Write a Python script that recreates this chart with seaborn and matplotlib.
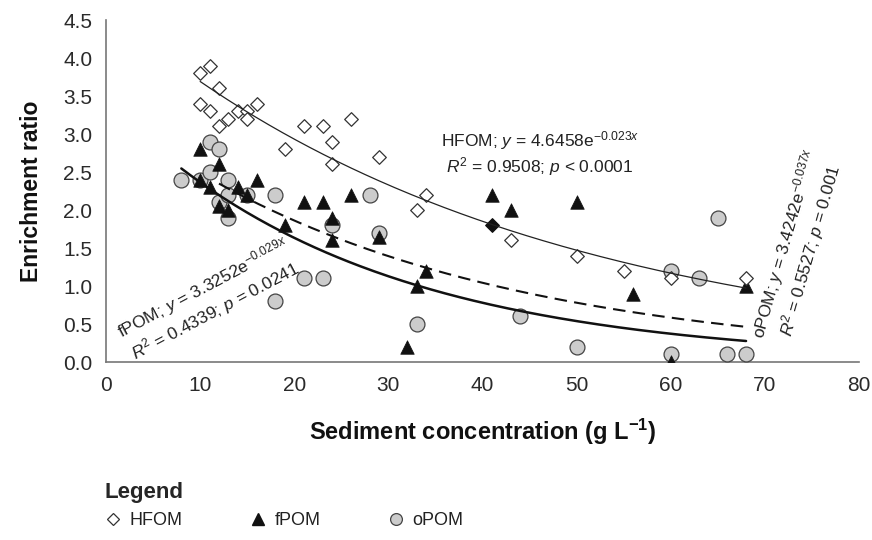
import numpy as np
import pandas as pd
import matplotlib
matplotlib.use("Agg")
import matplotlib.pyplot as plt
import seaborn as sns
from matplotlib.lines import Line2D

# HFOM - open diamonds
hfom_x = [10, 11, 12, 10, 11, 12, 13, 14, 15, 15, 16, 19, 21, 23, 24, 26, 24, 29, 33, 34, 43, 50, 55, 60, 68]
hfom_y = [3.8, 3.9, 3.6, 3.4, 3.3, 3.1, 3.2, 3.3, 3.3, 3.2, 3.4, 2.8, 3.1, 3.1, 2.9, 3.2, 2.6, 2.7, 2.0, 2.2, 1.6, 1.4, 1.2, 1.1, 1.1]
# the one filled diamond in the original
hfom_fill_x = [41]
hfom_fill_y = [1.8]

# fPOM - black triangles
fpom_x = [10, 10, 11, 12, 12, 13, 14, 15, 16, 19, 21, 23, 24, 24, 26, 29, 32, 33, 34, 41, 43, 50, 56, 60, 68]
fpom_y = [2.8, 2.4, 2.3, 2.6, 2.05, 2.0, 2.3, 2.2, 2.4, 1.8, 2.1, 2.1, 1.9, 1.6, 2.2, 1.65, 0.2, 1.0, 1.2, 2.2, 2.0, 2.1, 0.9, 0.0, 1.0]

# oPOM - grey circles
opom_x = [8, 10, 11, 11, 12, 12, 13, 13, 13, 15, 18, 18, 21, 23, 24, 28, 29, 33, 44, 50, 60, 60, 63, 65, 66, 68]
opom_y = [2.4, 2.4, 2.9, 2.5, 2.8, 2.1, 2.4, 2.2, 1.9, 2.2, 2.2, 0.8, 1.1, 1.1, 1.8, 2.2, 1.7, 0.5, 0.6, 0.2, 1.2, 0.1, 1.1, 1.9, 0.1, 0.1]

# exponential fits y = a * exp(b * x), with the x range each curve covers
fit_names = ["HFOM", "fPOM", "oPOM"]
fit_a = [4.6458, 3.3252, 3.4242]
fit_b = [-0.023, -0.029, -0.037]
fit_xmin = [10, 12, 8]
fit_xmax = [68, 68, 68]

x_ticks = [0, 10, 20, 30, 40, 50, 60, 70, 80]
y_ticks = [0.0, 0.5, 1.0, 1.5, 2.0, 2.5, 3.0, 3.5, 4.0, 4.5]

sns.set_style("white")
plt.rcParams["font.family"] = ["Liberation Sans", "DejaVu Sans"]
plt.rcParams["mathtext.fontset"] = "custom"
plt.rcParams["mathtext.rm"] = "Liberation Sans"
plt.rcParams["mathtext.it"] = "Liberation Sans:italic"
plt.rcParams["mathtext.bf"] = "Liberation Sans:bold"

EDGE = "#333333"
AXIS = "#777777"

fig = plt.figure(figsize=(8.72, 5.4), dpi=100)
ax = fig.add_axes([0.1216, 0.3296, 0.8635, 0.6333])

# fitted curves
styles = {
    "HFOM": dict(color="#222222", linewidth=0.9, linestyle="-"),
    "fPOM": dict(color="#111111", linewidth=1.5, linestyle=(0, (6, 3.5))),
    "oPOM": dict(color="#111111", linewidth=1.8, linestyle="-"),
}
for name, a, b, x0, x1 in zip(fit_names, fit_a, fit_b, fit_xmin, fit_xmax):
    xs = np.linspace(x0, x1, 200)
    ys = a * np.exp(b * xs)
    sns.lineplot(x=xs, y=ys, ax=ax, zorder=4, **styles[name])

# data points
sns.scatterplot(x=opom_x, y=opom_y, ax=ax, marker="o", s=115,
                color="#cccccc", edgecolor="#444444", linewidth=0.9, zorder=3)
sns.scatterplot(x=fpom_x, y=fpom_y, ax=ax, marker="^", s=95,
                color="#111111", edgecolor="#111111", linewidth=0.5, zorder=3)
sns.scatterplot(x=hfom_x, y=hfom_y, ax=ax, marker="D", s=48,
                color="white", edgecolor=EDGE, linewidth=0.9, zorder=3)
sns.scatterplot(x=hfom_fill_x, y=hfom_fill_y, ax=ax, marker="D", s=48,
                color="#111111", edgecolor="#111111", linewidth=0.9, zorder=3)

ax.set_xlim(0, 80)
ax.set_ylim(0, 4.5)
ax.set_xticks(x_ticks)
ax.set_yticks(y_ticks)
ax.set_yticklabels([f"{v:.1f}" for v in y_ticks])
ax.tick_params(axis="both", direction="out", length=6.5, width=1, color=AXIS,
               labelsize=15, labelcolor="#2a2a2a", pad=3.5)
for side in ["top", "right"]:
    ax.spines[side].set_visible(False)
for side in ["left", "bottom"]:
    ax.spines[side].set_color(AXIS)
    ax.spines[side].set_linewidth(1.2)

ax.set_xlabel("Sediment concentration (g L$^{\\mathbf{-1}}$)", fontsize=17,
              fontweight="bold", labelpad=16, color="#111111")
ax.set_ylabel("Enrichment ratio", fontsize=16.5, fontweight="bold",
              labelpad=14, color="#111111")

# equation labels
txt_kw = dict(fontsize=12.5, family="Liberation Sans", color="#222222",
              ha="center", va="center", multialignment="center", zorder=5)
ax.text(46.1, 2.74, "HFOM; $y$ = 4.6458e$^{\\mathrm{-0.023}x}$\n$R^2$ = 0.9508; $p$ < 0.0001",
        **txt_kw)
ax.text(10.95, 0.82, "fPOM; $y$ = 3.3252e$^{\\mathrm{-0.029}x}$\n$R^2$ = 0.4339; $p$ = 0.0241",
        rotation=28, rotation_mode="anchor", **txt_kw)
ax.text(73.5, 1.51, "oPOM; $y$ = 3.4242e$^{\\mathrm{-0.037}x}$\n$R^2$ = 0.5527; $p$ = 0.001",
        rotation=74, rotation_mode="anchor", **txt_kw)

# legend below the plot
handles = [
    Line2D([], [], marker="D", linestyle="", markersize=6, markerfacecolor="white",
           markeredgecolor=EDGE, markeredgewidth=0.9),
    Line2D([], [], marker="^", linestyle="", markersize=8, markerfacecolor="#111111",
           markeredgecolor="#111111"),
    Line2D([], [], marker="o", linestyle="", markersize=8.5, markerfacecolor="#cccccc",
           markeredgecolor="#444444", markeredgewidth=0.9),
]
leg = fig.legend(handles, ["HFOM", "fPOM", "oPOM"], loc="upper left",
                 bbox_to_anchor=(104 / 872, 1 - 482 / 540), ncol=3, frameon=False,
                 title="Legend", alignment="left", fontsize=13,
                 title_fontproperties={"weight": "bold", "size": 16},
                 handlelength=1.0, handletextpad=0.4, columnspacing=3.7,
                 borderpad=0, borderaxespad=0)
for t in leg.get_texts():
    t.set_color("#222222")

fig.savefig("out.png", dpi=100)
